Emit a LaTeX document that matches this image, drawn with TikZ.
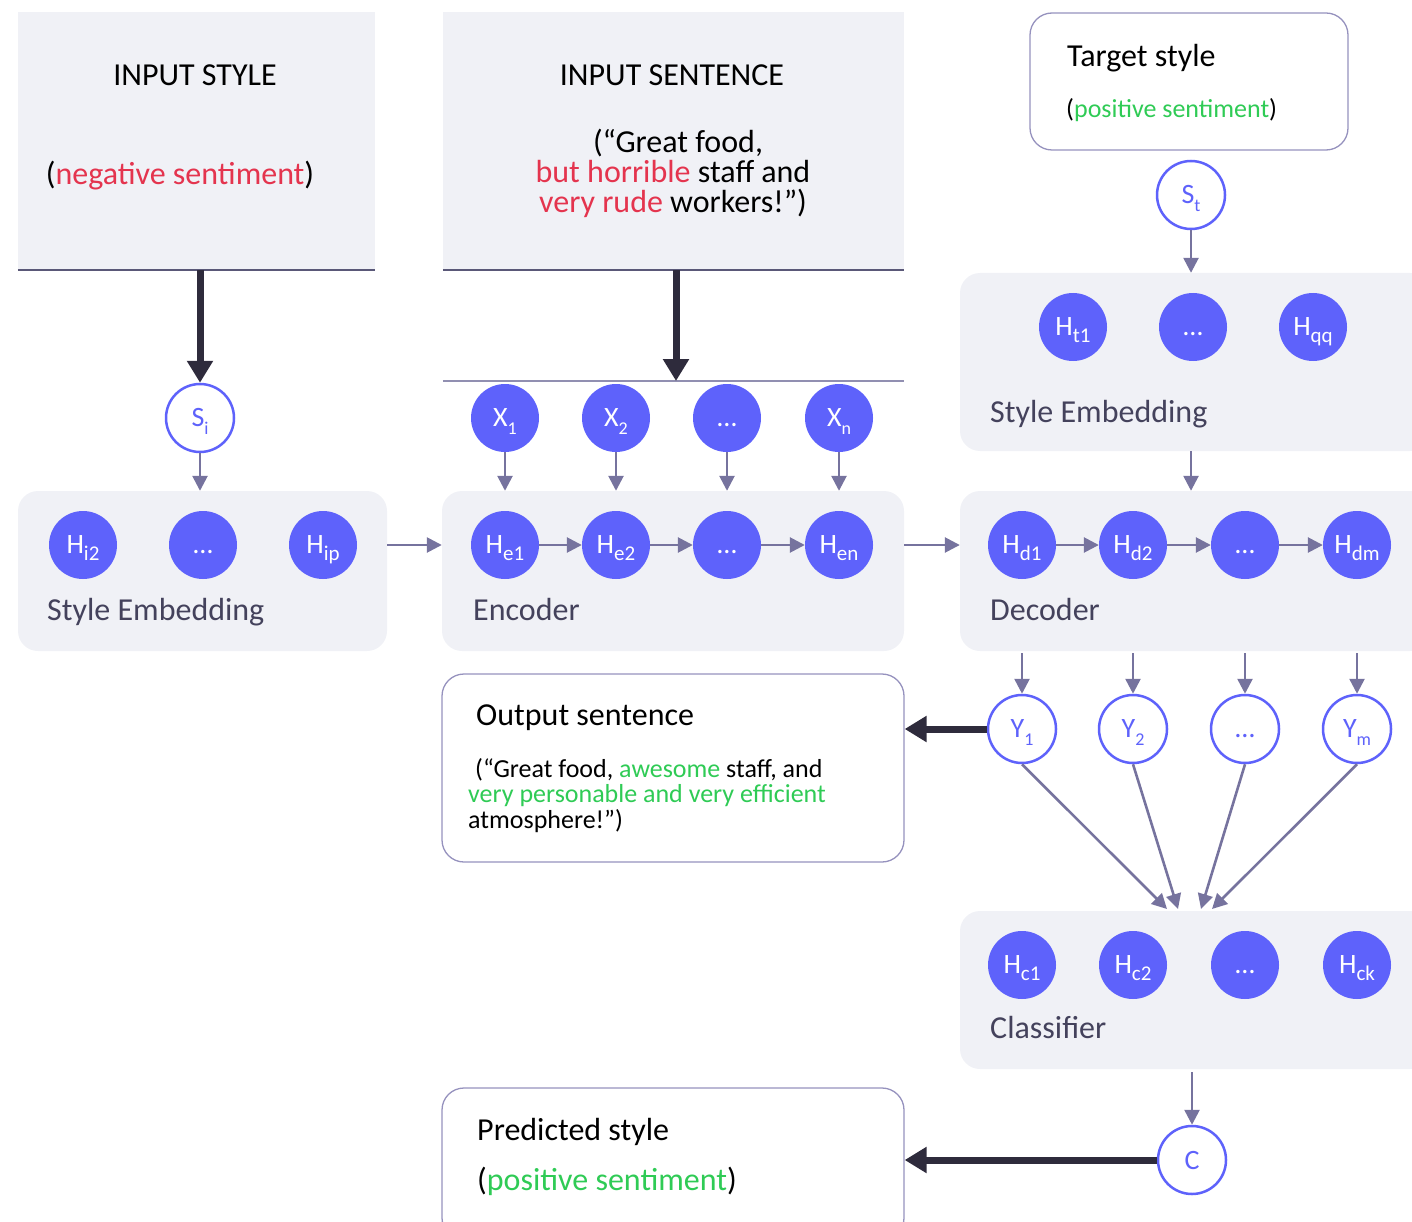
\documentclass[tikz,border=0pt]{standalone}
\usepackage{fontspec}
\setmainfont{Carlito}
\usetikzlibrary{arrows.meta,calc}
\definecolor{cblue}{RGB}{94,98,251}
\definecolor{cpanel}{RGB}{240,241,246}
\definecolor{carr}{RGB}{118,115,158}
\definecolor{cdark}{RGB}{46,43,60}
\definecolor{cred}{RGB}{228,52,78}
\definecolor{cgreen}{RGB}{47,203,85}
\definecolor{clabel}{RGB}{68,66,92}
\definecolor{cborder}{RGB}{150,146,190}
\definecolor{culine}{RGB}{90,88,120}
\newcommand{\fsz}[1]{\fontsize{#1}{#1}\selectfont}
\newcommand{\Hs}[2]{#1\smash{\raisebox{-7pt}{\fsz{21}#2}}}
\newcommand{\Os}[2]{#1\smash{\raisebox{-8pt}{\fsz{18}#2}}}
\newcommand{\dotsH}{\vphantom{H}…}
\begin{document}
\begin{tikzpicture}[x=1pt,y=-1pt,
  panel/.style={fill=cpanel,draw=none,rounded corners=20pt,inner sep=0},
  sqpanel/.style={fill=cpanel,draw=none,inner sep=0},
  wbox/.style={fill=white,draw=cborder,line width=1.3pt,rounded corners=22pt,inner sep=0},
  hnode/.style={circle,fill=cblue,draw=none,minimum size=68pt,inner sep=0,text=white,font=\fsz{28}},
  onode/.style={circle,fill=white,draw=cblue,line width=2.5pt,minimum size=68pt,inner sep=0,text=cblue,font=\fsz{28}},
  arr/.style={draw=carr,line width=2.6pt,-{Triangle[length=15pt,width=15pt]}},
  bigarr/.style={draw=cdark,line width=7pt,-{Triangle[length=22pt,width=25pt]}},
  uline/.style={draw=culine,line width=2pt},
  thinl/.style={draw=carr!80,line width=1.5pt},
  txt/.style={inner sep=0,text=black},
  lbl/.style={inner sep=0,text=clabel,font=\fsz{32},anchor=base west}
]
\useasboundingbox (0,0) rectangle (1412,1222);
\clip (0,0) rectangle (1412,1222);

% ---------- panels ----------
\node[sqpanel,minimum width=357pt,minimum height=258pt] (instyle) at (196.5,141) {};
\node[sqpanel,minimum width=461pt,minimum height=258pt] (insent) at (673.5,141) {};
\draw[uline] (instyle.south west) -- (instyle.south east);
\draw[uline] (insent.south west) -- (insent.south east);
\node[wbox,minimum width=318pt,minimum height=137pt] (tgt) at (1189,81.5) {};

\node[panel,minimum width=369pt,minimum height=160pt] (semL) at (202.5,571) {};
\node[panel,minimum width=462pt,minimum height=160pt] (enc) at (673,571) {};
\node[panel,minimum width=470pt,minimum height=160pt] (dec) at (1195,571) {};
\node[panel,minimum width=470pt,minimum height=178pt] (semR) at (1195,362) {};
\node[panel,minimum width=470pt,minimum height=158pt] (cls) at (1195,990) {};
\node[wbox,minimum width=462pt,minimum height=188pt] (out) at (673,768) {};
\node[wbox,minimum width=462pt,minimum height=152pt] (pred) at (673,1164) {};

% ---------- texts ----------
\node[txt,anchor=base,font=\fsz{32}] (tis) at (195,86) {INPUT STYLE};
\node[txt,anchor=base,font=\fsz{32}] (tneg) at (180,185) {(\textcolor{cred}{negative sentiment})};
\node[txt,anchor=base,font=\fsz{32}] (tisen) at (672,86) {INPUT SENTENCE};
\node[txt,anchor=base,font=\fsz{32}] (ts1) at (678,153) {(“Great food,};
\node[txt,anchor=base,font=\fsz{32}] (ts2) at (673,183) {\textcolor{cred}{but horrible} staff and};
\node[txt,anchor=base,font=\fsz{32}] (ts3) at (673,213) {\textcolor{cred}{very rude} workers!”)};

\node[txt,anchor=base west,font=\fsz{32}] (ttg) at (1067,67) {Target style};
\node[txt,anchor=base west,font=\fsz{26}] (ttp) at (1066,118) {(\textcolor{cgreen}{positive sentiment})};

\node[txt,anchor=base west,font=\fsz{32}] (tout) at (476,725) {Output sentence};
\node[txt,anchor=base west,font=\fsz{26}] (to1) at (475,777) {(“Great food, \textcolor{cgreen}{awesome} staff, and};
\node[txt,anchor=base west,font=\fsz{26}] (to2) at (468,802) {\textcolor{cgreen}{very personable and very efficient}};
\node[txt,anchor=base west,font=\fsz{26}] (to3) at (468,828) {atmosphere!”)};

\node[txt,anchor=base west,font=\fsz{32}] (tpr) at (477,1140) {Predicted style};
\node[txt,anchor=base west,font=\fsz{32}] (tpp) at (477,1190) {(\textcolor{cgreen}{positive sentiment})};

\node[lbl] (lsemL) at (47,620) {Style Embedding};
\node[lbl] (lenc) at (473,620) {Encoder};
\node[lbl] (ldec) at (990,620) {Decoder};
\node[lbl] (lsemR) at (990,422) {Style Embedding};
\node[lbl] (lcls) at (990,1038) {Classifier};

% ---------- circles ----------
\node[onode] (si) at (200,418) {\Os{S}{i}};
\node[hnode] (x1) at (505,418) {\Os{X}{1}};
\node[hnode] (x2) at (616,418) {\Os{X}{2}};
\node[hnode] (x3) at (727,418) {\dotsH};
\node[hnode] (xn) at (839,418) {\Os{X}{n}};

\node[hnode] (hi2) at (83,545) {\Hs{H}{i2}};
\node[hnode] (hid) at (203,545) {\dotsH};
\node[hnode] (hip) at (323,545) {\Hs{H}{ip}};

\node[hnode] (he1) at (505,545) {\Hs{H}{e1}};
\node[hnode] (he2) at (616,545) {\Hs{H}{e2}};
\node[hnode] (he3) at (727,545) {\dotsH};
\node[hnode] (hen) at (839,545) {\Hs{H}{en}};

\node[hnode] (hd1) at (1022,545) {\Hs{H}{d1}};
\node[hnode] (hd2) at (1133,545) {\Hs{H}{d2}};
\node[hnode] (hd3) at (1245,545) {\dotsH};
\node[hnode] (hdm) at (1357,545) {\Hs{H}{dm}};

\node[onode] (st) at (1191,195) {\Os{S}{t}};
\node[hnode] (ht1) at (1073,327) {\Hs{H}{t1}};
\node[hnode] (htd) at (1193,327) {\dotsH};
\node[hnode] (hqq) at (1313,327) {\Hs{H}{qq}};

\node[onode] (y1) at (1022,729) {\Os{Y}{1}};
\node[onode] (y2) at (1133,729) {\Os{Y}{2}};
\node[onode] (y3) at (1245,729) {\dotsH};
\node[onode] (ym) at (1357,729) {\Os{Y}{m}};

\node[hnode] (hc1) at (1022,965) {\Hs{H}{c1}};
\node[hnode] (hc2) at (1133,965) {\Hs{H}{c2}};
\node[hnode] (hc3) at (1245,965) {\dotsH};
\node[hnode] (hck) at (1357,965) {\Hs{H}{ck}};

\node[onode] (c) at (1192,1160) {C};

% ---------- connectors ----------
\coordinate (xl) at (676,381);
\draw[thinl] (insent.south west |- xl) -- (insent.south east |- xl);
\draw[bigarr] (instyle.south -| si) -- (si.north);
\draw[bigarr] (insent.south -| xl) -- (xl);

\draw[arr] (si.south) -- (si |- semL.north);
\foreach \n in {x1,x2,x3,xn} \draw[arr] (\n.south) -- (\n |- enc.north);
\draw[arr] (hip -| semL.east) -- (hip -| enc.west);
\draw[arr] (he1) -- (he2);
\draw[arr] (he2) -- (he3);
\draw[arr] (he3) -- (hen);
\draw[arr] (hen -| enc.east) -- (hd1 -| dec.west);
\draw[arr] (hd1) -- (hd2);
\draw[arr] (hd2) -- (hd3);
\draw[arr] (hd3) -- (hdm);

\draw[arr] (st.south) -- (st |- semR.north);
\draw[arr] (semR.south -| st) -- (dec.north -| st);

\draw[arr,shorten <=2pt] (hd1 |- dec.south) -- (y1.north);
\draw[arr,shorten <=2pt] (hd2 |- dec.south) -- (y2.north);
\draw[arr,shorten <=2pt] (hd3 |- dec.south) -- (y3.north);
\draw[arr,shorten <=2pt] (hdm |- dec.south) -- (ym.north);

\coordinate (ci1) at (1167,909);
\coordinate (ci2) at (1178,909);
\coordinate (ci3) at (1201,909);
\coordinate (ci4) at (1212,909);
\draw[arr] (y1.south) -- (ci1);
\draw[arr] (y2.south) -- (ci2);
\draw[arr] (y3.south) -- (ci3);
\draw[arr] (ym.south) -- (ci4);

\draw[arr,shorten <=3pt] (cls.south -| c) -- (c.north);

\draw[bigarr] (y1.west) -- (y1.west -| out.east);
\draw[bigarr] (c.west) -- (c.west -| pred.east);
\end{tikzpicture}
\end{document}
